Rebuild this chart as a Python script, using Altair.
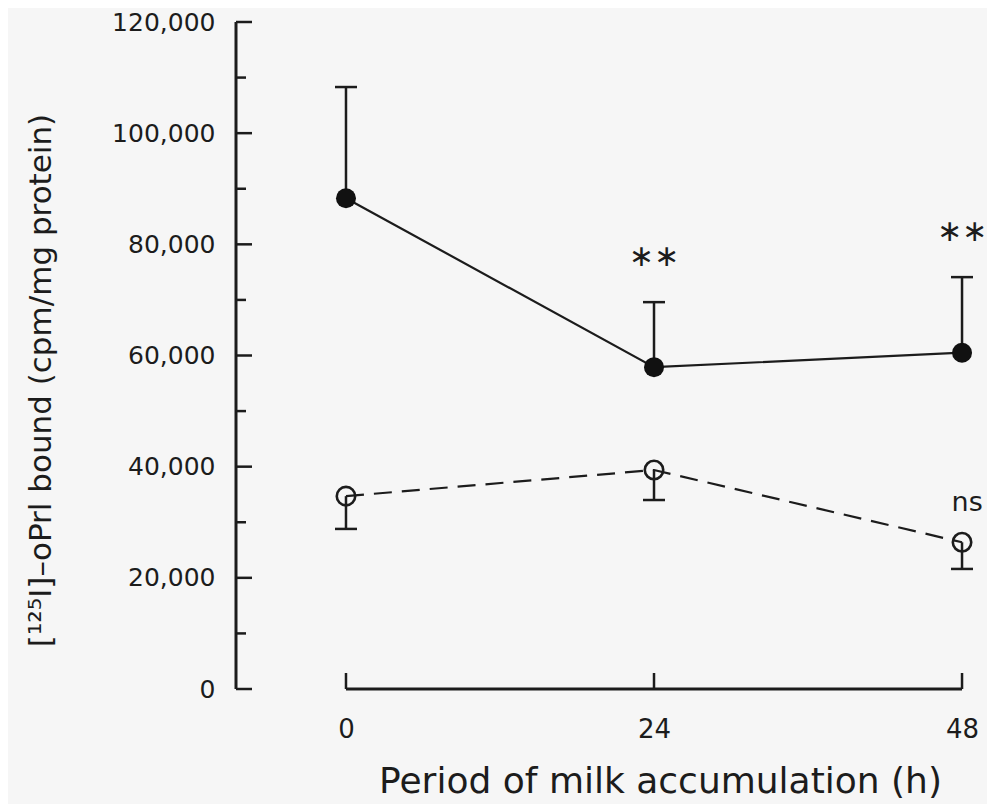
import altair as alt
import pandas as pd

# ---- data ----
hours = [0, 24, 48]
filled_mean = [88300, 57900, 60500]
filled_upper = [108300, 69600, 74100]
open_mean = [34700, 39400, 26400]
open_lower = [28800, 34000, 21600]

star_x = [24, 48]
star_y = [77700, 82200]
star_text = ["∗∗", "∗∗"]
ns_x = [48.4]
ns_y = [33500]
ns_text = ["ns"]

y_major = [0, 20000, 40000, 60000, 80000, 100000, 120000]
y_minor = [10000, 30000, 50000, 70000, 90000, 110000]
x_ticks = [0, 24, 48]

INK = "#1c1c1c"
FONT = "DejaVu Sans"

filled = pd.DataFrame({"h": hours, "mean": filled_mean, "err": filled_upper})
opened = pd.DataFrame({"h": hours, "mean": open_mean, "err": open_lower})
stars = pd.DataFrame({"h": star_x, "y": star_y, "t": star_text})
ns = pd.DataFrame({"h": ns_x, "y": ns_y, "t": ns_text})
ymaj = pd.DataFrame({"v": y_major})
ymin = pd.DataFrame({"v": y_minor})
xt = pd.DataFrame({"h": x_ticks})
xaxis_df = pd.DataFrame({"h": [x_ticks[0]], "b": [x_ticks[-1]]})
yaxis_df = pd.DataFrame({"v": [y_major[0]], "b": [y_major[-1]]})

xs = alt.Scale(domain=[-8.57, 49.79], nice=False, zero=False)
ys = alt.Scale(domain=[0, 120000], nice=False)

x_axis = alt.Axis(values=x_ticks, format="d", domain=False, ticks=False, grid=False,
                  labelPadding=27, labelFontSize=26, labelFont=FONT, labelColor=INK,
                  title="Period of milk accumulation (h)", titleFont=FONT,
                  titleFontSize=36, titleFontWeight="normal", titleColor=INK,
                  titleX=424, titleY=92, titleAlign="center", titleBaseline="middle")
y_axis = alt.Axis(values=y_major, format=",.0f", domain=False, ticks=False, grid=False,
                  labelPadding=21, labelFontSize=25, labelFont=FONT, labelColor=INK,
                  title="[¹²⁵I]–oPrl bound (cpm/mg protein)", titleFont=FONT,
                  titleFontSize=31, titleFontWeight="normal", titleColor=INK,
                  titleAngle=270, titleX=-195, titleY=358,
                  titleAlign="center", titleBaseline="middle")


def X(field="h"):
    return alt.X(f"{field}:Q", scale=xs, axis=x_axis)


def Y(field):
    return alt.Y(f"{field}:Q", scale=ys, axis=y_axis)


# axes drawn by hand (ticks point inward)
yline = alt.Chart(yaxis_df).mark_rule(color=INK, strokeWidth=3).encode(
    x=alt.value(0), y=Y("v"), y2="b:Q")
xline = alt.Chart(xaxis_df).mark_rule(color=INK, strokeWidth=3).encode(
    x=X("h"), x2="b:Q", y=alt.value(667))
xtick = alt.Chart(xt).mark_rule(color=INK, strokeWidth=2.5).encode(
    x=X("h"), y=alt.value(651), y2=alt.value(667))
ytick_major = alt.Chart(ymaj).mark_rule(color=INK, strokeWidth=2.5).encode(
    y=Y("v"), x=alt.value(0), x2=alt.value(16))
ytick_minor = alt.Chart(ymin).mark_rule(color=INK, strokeWidth=2.5).encode(
    y=Y("v"), x=alt.value(0), x2=alt.value(10))

# filled series
f_err = alt.Chart(filled).mark_rule(color=INK, strokeWidth=2.5).encode(
    x=X(), y=Y("mean"), y2="err:Q")
f_cap = alt.Chart(filled).mark_tick(color=INK, orient="horizontal", size=22,
                                    thickness=2.5, opacity=1).encode(
    x=X(), y=Y("err"))
f_line = alt.Chart(filled).mark_line(color=INK, strokeWidth=2.2).encode(
    x=X(), y=Y("mean"))
f_pt = alt.Chart(filled).mark_circle(color="#111111", size=400, opacity=1).encode(
    x=X(), y=Y("mean"))

# open series
o_err = alt.Chart(opened).mark_rule(color=INK, strokeWidth=2.5).encode(
    x=X(), y=Y("mean"), y2="err:Q")
o_cap = alt.Chart(opened).mark_tick(color=INK, orient="horizontal", size=22,
                                    thickness=2.5, opacity=1).encode(
    x=X(), y=Y("err"))
o_line = alt.Chart(opened).mark_line(color=INK, strokeWidth=2.2, strokeDash=[18, 10]).encode(
    x=X(), y=Y("mean"))
o_pt = alt.Chart(opened).mark_point(color=INK, size=340, filled=False,
                                    strokeWidth=2.6, opacity=1).encode(
    x=X(), y=Y("mean"))

star_txt = alt.Chart(stars).mark_text(font=FONT, fontSize=30, color=INK, baseline="middle").encode(
    x=X(), y=Y("y"), text="t:N")
ns_txt = alt.Chart(ns).mark_text(font=FONT, fontSize=27, color=INK, baseline="middle").encode(
    x=X(), y=Y("y"), text="t:N")

chart = alt.layer(
    yline, xline, xtick, ytick_major, ytick_minor,
    f_err, f_cap, o_err, o_cap, f_line, o_line, f_pt, o_pt, star_txt, ns_txt
).properties(
    width=749, height=667,
    autosize=alt.AutoSizeParams(type="none"),
    padding={"left": 228, "top": 14, "right": 2, "bottom": 115},
    background="#f6f6f6",
).configure_view(stroke=None)

chart.save("out.html", embed_options={"renderer": "svg", "actions": False})
